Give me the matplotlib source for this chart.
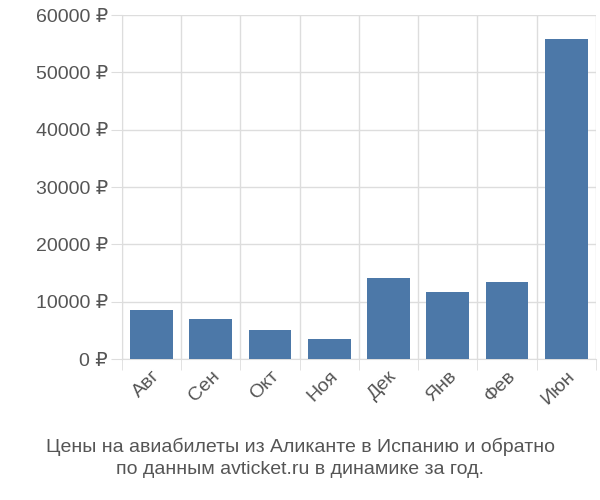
import matplotlib
matplotlib.use("Agg")
import matplotlib.pyplot as plt
import numpy as np

categories = ["Авг", "Сен", "Окт", "Ноя", "Дек", "Янв", "Фев", "Июн"]
values = [8500, 6900, 5100, 3500, 14200, 11700, 13500, 55800]
yticks = [0, 10000, 20000, 30000, 40000, 50000, 60000]
ylabels = [f"{v} ₽" for v in yticks]

plt.rcParams['font.family'] = ['Liberation Sans', 'DejaVu Sans']
fig = plt.figure(figsize=(6, 5), dpi=100)
ax = fig.add_axes([0.203, 0.282, 0.790, 0.688])
x = np.arange(len(categories))
ax.bar(x, values, width=0.72, color="#4c78a8", zorder=3)
ax.set_xlim(-0.5, len(categories) - 0.5)
ax.set_ylim(0, 60000)
ax.set_yticks(yticks)
ax.set_yticklabels(ylabels, fontsize=14, color="#555555")
ax.set_xticks(x)
ax.set_xticklabels(categories, fontsize=14, color="#555555", rotation=-45 + 90 - 45 + 45, ha="right", rotation_mode="anchor")
for lab in ax.get_xticklabels():
    lab.set_rotation(45)
ax.set_xticks(np.arange(-0.5, len(categories)), minor=True)
ax.tick_params(axis="x", which="major", length=0, pad=6)
ax.tick_params(axis="x", which="minor", length=8, color="#dddddd")
ax.tick_params(axis="y", length=8, color="#dddddd", pad=2)
ax.grid(axis="y", color="#dddddd", lw=1, zorder=0)
ax.grid(axis="x", which="minor", color="#dddddd", lw=1, zorder=0)
for s in ["top", "right"]:
    ax.spines[s].set_visible(False)
ax.spines["left"].set_color("#dddddd")
ax.spines["bottom"].set_color("#dddddd")
fig.text(0.5, 0.085, "Цены на авиабилеты из Аликанте в Испанию и обратно\nпо данным avticket.ru в динамике за год.",
         ha="center", va="center", fontsize=14, color="#555555", linespacing=1.4)
fig.savefig("out.png", dpi=100)
